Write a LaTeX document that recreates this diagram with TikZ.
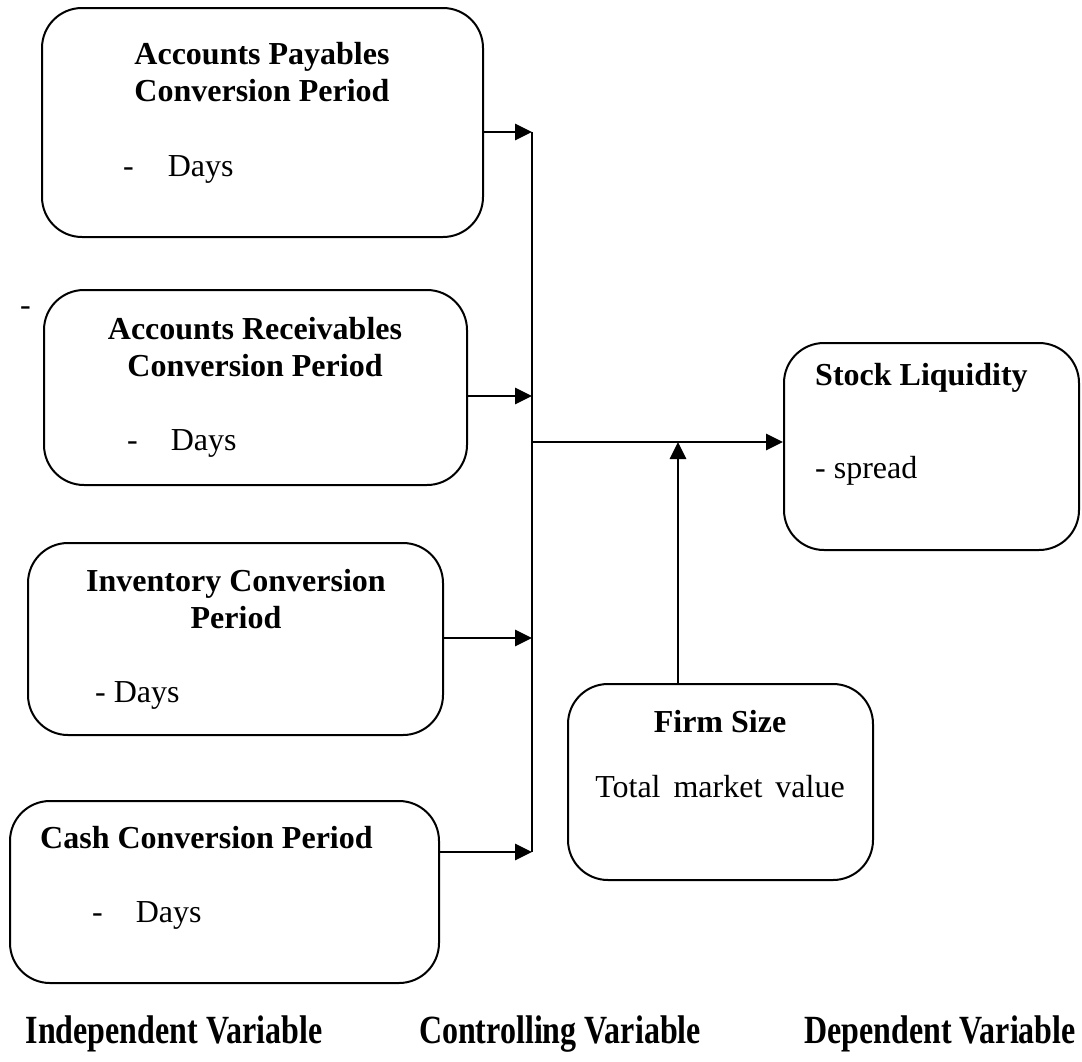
\documentclass[tikz,border=0pt]{standalone}
\usepackage{fontspec}
\setmainfont{Liberation Serif}
\newfontfamily\narrowfont[FakeStretch=0.8]{Liberation Serif}
\usetikzlibrary{arrows.meta}
\newcommand{\boxfont}{\fontsize{32}{37}\selectfont}

\begin{document}
\begin{tikzpicture}[x=1pt,y=-1pt,
    box/.style={draw, line width=2pt, rounded corners=40pt, inner sep=0pt},
    title/.style={font=\boxfont\bfseries, align=center, inner sep=0pt, anchor=north},
    txt/.style={font=\boxfont, inner sep=0pt, anchor=base west},
    caption/.style={font=\fontsize{40}{44}\selectfont\narrowfont\bfseries, inner sep=0pt, anchor=base},
    link/.style={line width=2.8pt},
    >={Triangle[length=17pt,width=16pt]}]
  \useasboundingbox (0,0) rectangle (1082,1061);

  % boxes
  \node (apcp) at (262.5,122.5) [box, minimum width=441pt, minimum height=229pt] {};
  \node (arcp) at (255.5,387.5) [box, minimum width=423pt, minimum height=195pt] {};
  \node (icp)  at (235.5,639)   [box, minimum width=415pt, minimum height=192pt] {};
  \node (ccp)  at (224.5,892)   [box, minimum width=429pt, minimum height=182pt] {};
  \node (sl)   at (931.5,446.5) [box, minimum width=295pt, minimum height=207pt] {};
  \node (fs)   at (720.5,782)   [box, minimum width=305pt, minimum height=196pt] {};

  % texts
  \node (apcpT) at (262,42)  [title] {Accounts Payables\\Conversion Period};
  \node (apcpD) at (123,176) [txt] {-\hspace{34pt}Days};
  \node (arcpT) at (255,317) [title] {Accounts Receivables\\Conversion Period};
  \node (arcpD) at (127,450) [txt] {-\hspace{33pt}Days};
  \node (icpT)  at (236,569) [title] {Inventory Conversion\\Period};
  \node (icpD)  at (95,702)  [txt] {- Days};
  \node (ccpT)  at (40,848)  [txt, font=\boxfont\bfseries] {Cash Conversion Period};
  \node (ccpD)  at (92,922)  [txt] {-\hspace{33pt}Days};
  \node (slT)   at (815,385) [txt, font=\boxfont\bfseries] {Stock Liquidity};
  \node (slD)   at (815,478) [txt] {- spread};
  \node (fsT)   at (720,732) [txt, anchor=base, font=\boxfont\bfseries] {Firm Size};
  \node (fsD)   at (720,797) [txt, anchor=base] {Total\hspace{13pt}market\hspace{13pt}value};
  \node (stray) at (20,315)  [txt] {-};

  % connectors
  \coordinate (bustop) at (532,132);
  \coordinate (busbot) at (532,852);
  \coordinate (hub) at (532,442);
  \coordinate (fsin) at (678,442);
  \draw[link] (bustop) -- (busbot);
  \foreach \b/\y in {apcp/132, arcp/396, icp/638, ccp/852}
    {
      \coordinate (in\b) at (532,\y);
      \draw[link,->] (\b.east |- in\b) -- (in\b);
    }
  \draw[link,->] (hub) -- (hub -| sl.west);
  \draw[link,->] (fs.north -| fsin) -- (fsin);

  % captions
  \node (indep) at (174,1043) [caption] {Independent Variable};
  \node (contr) at (560,1043) [caption] {Controlling Variable};
  \node (depen) at (940,1043) [caption] {Dependent Variable};
\end{tikzpicture}
\end{document}
